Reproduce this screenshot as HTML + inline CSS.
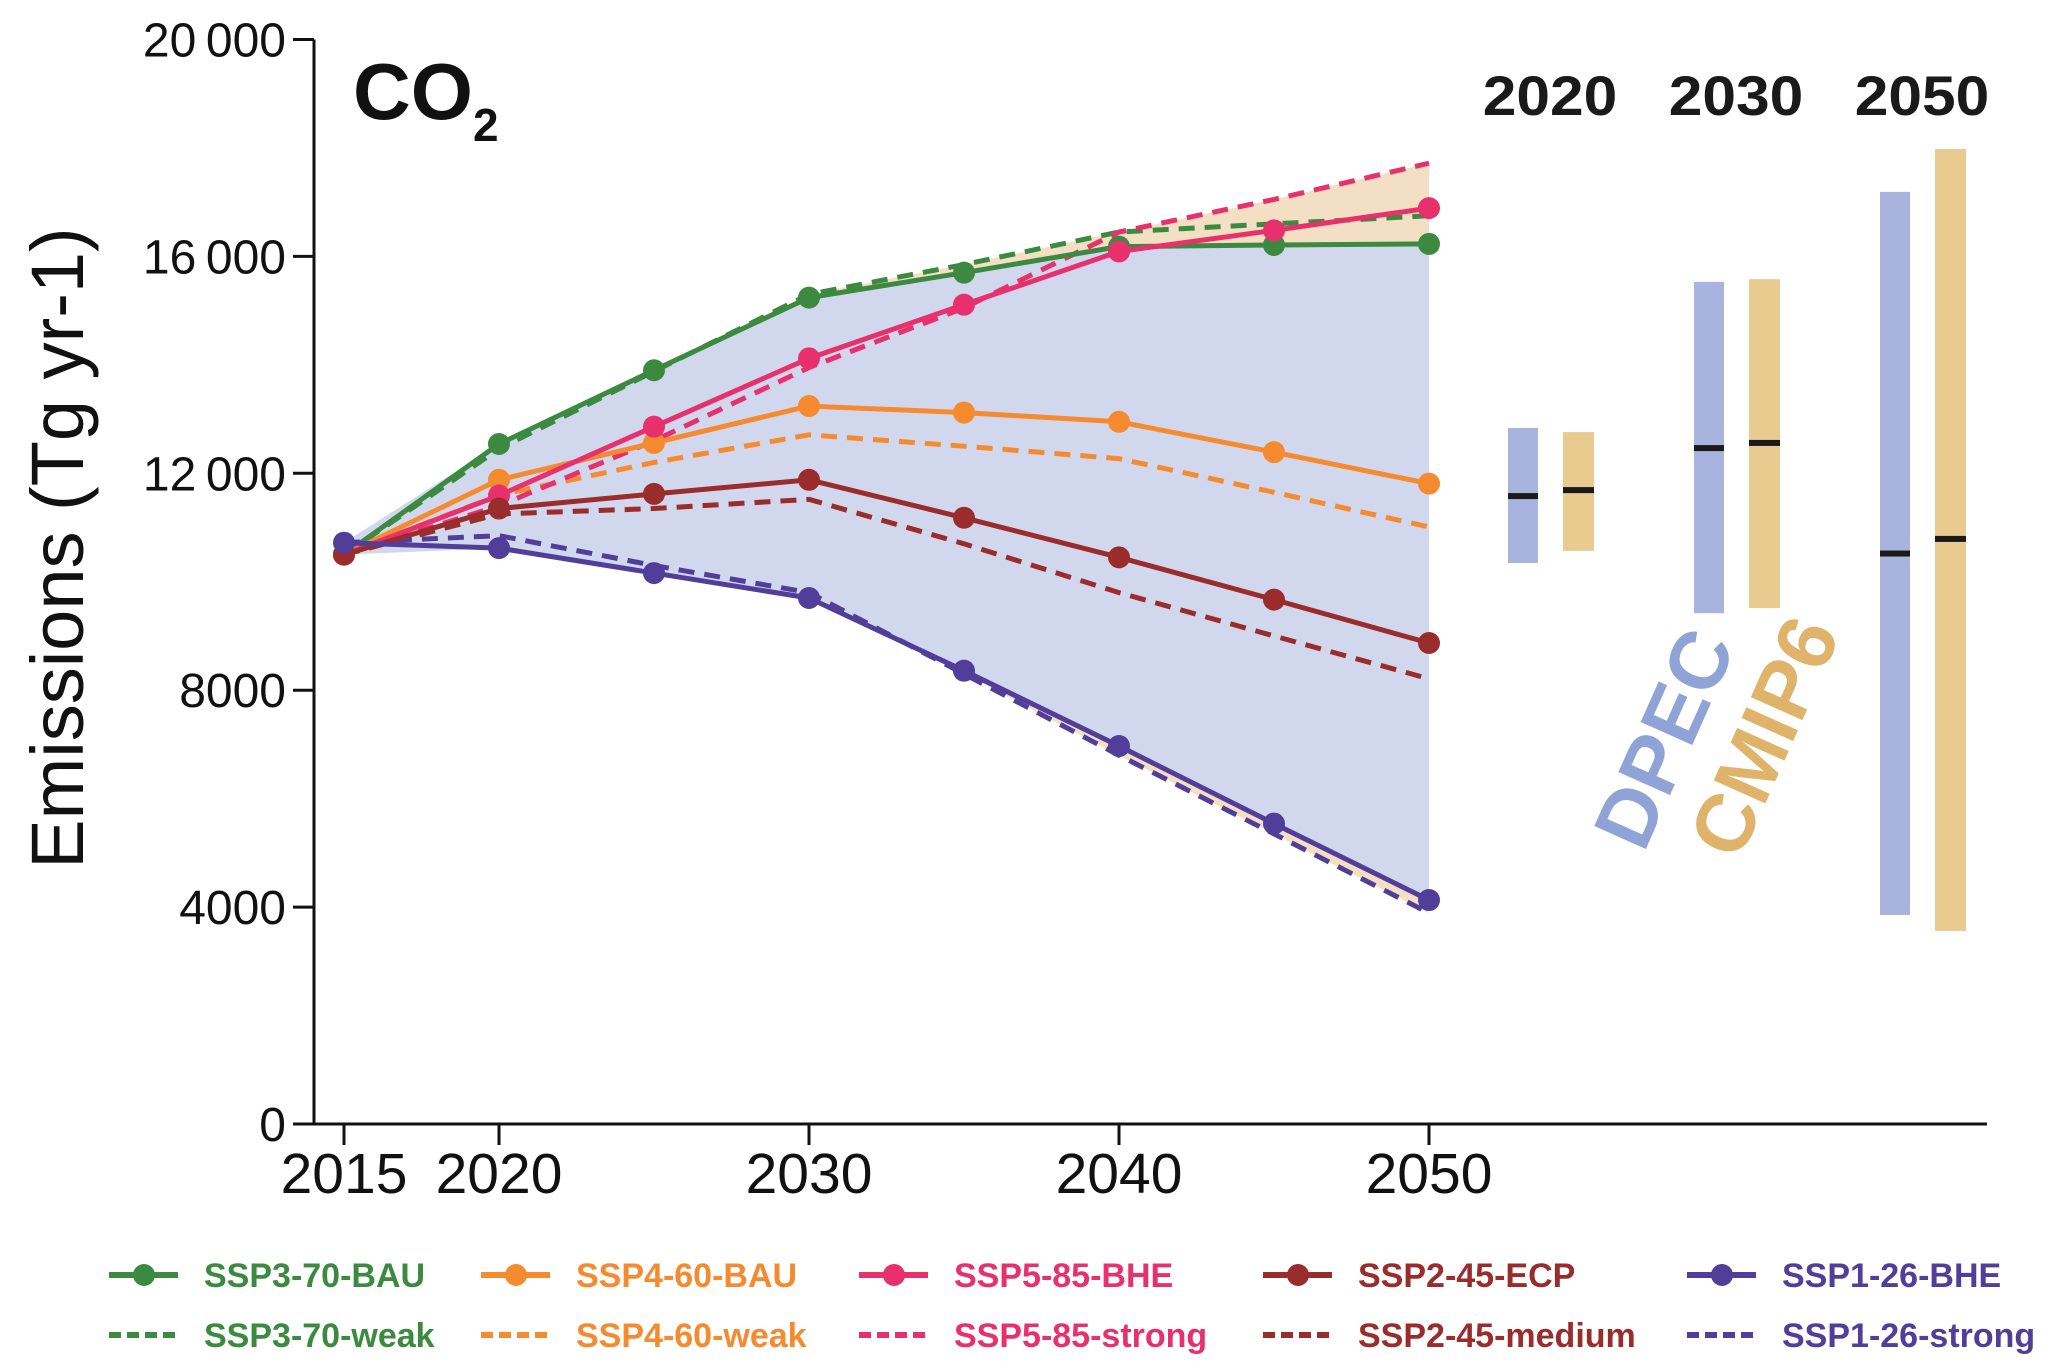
<!DOCTYPE html>
<html><head><meta charset="utf-8">
<style>
html,body{margin:0;padding:0;background:#fff;}
svg{display:block;font-family:"Liberation Sans",Arial,sans-serif;}
</style></head>
<body>
<svg id="chart" width="2067" height="1372" viewBox="0 0 2067 1372" xmlns="http://www.w3.org/2000/svg">
<g id="band"></g>
<g id="lines"></g>
<g id="axes"></g>
<g id="bars"></g>
<g id="legend"></g>
<text x="353" y="119" font-size="80" font-weight="bold" fill="#111">CO<tspan font-size="46" dy="22">2</tspan></text>
<text transform="translate(83,548) rotate(-90)" text-anchor="middle" font-size="74" fill="#111">Emissions (Tg yr-1)</text>
<text transform="translate(1690,750) rotate(-66)" text-anchor="middle" font-size="82" font-weight="bold" fill="#8fa3d6">DPEC</text>
<text transform="translate(1790,748) rotate(-66)" text-anchor="middle" font-size="82" font-weight="bold" fill="#dfb46a">CMIP6</text>
</svg>
<script>
const years = [2015,2020,2025,2030,2035,2040,2045,2050];
const ssp3Bau = [10500,12540,13900,15240,15700,16180,16210,16230];
const ssp3Weak = [10500,12450,13880,15300,15850,16450,16600,16750];
const ssp4Bau = [10500,11880,12560,13240,13120,12950,12390,11810];
const ssp4Weak = [10500,11600,12200,12710,12500,12270,11650,11010];
const ssp5Bhe = [10500,11590,12860,14120,15110,16090,16480,16890];
const ssp5Strong = [10500,11400,12600,13950,15050,16450,17050,17720];
const ssp2Ecp = [10500,11350,11620,11880,11180,10450,9670,8870];
const ssp2Medium = [10500,11250,11350,11520,10700,9800,9000,8210];
const ssp1Bhe = [10720,10620,10160,9700,8360,6970,5540,4130];
const ssp1Strong = [10720,10850,10300,9800,8300,6800,5350,3890];
const yTicks = [0,4000,8000,12000,16000,20000];
const yTickLabels = ["0","4000","8000","12\u2009000","16\u2009000","20\u2009000"];
const xTicks = [2015,2020,2030,2040,2050];
const barYears = ["2020","2030","2050"];
const dpecMin = [10345,9420,3855];
const dpecMax = [12835,15530,17190];
const dpecMed = [11580,12465,10520];
const cmipMin = [10570,9515,3560];
const cmipMax = [12760,15580,17980];
const cmipMed = [11690,12560,10790];

const NS="http://www.w3.org/2000/svg";
const X=v=>344+(v-2015)*(1429-344)/35;
const Y=v=>1124-v*(1124-39.5)/20000;
function mk(tag,attrs,parent){const e=document.createElementNS(NS,tag);for(const k in attrs)e.setAttribute(k,attrs[k]);parent.appendChild(e);return e;}
const band=document.getElementById('band'),lines=document.getElementById('lines'),axes=document.getElementById('axes'),bars=document.getElementById('bars'),legend=document.getElementById('legend');
const all=[ssp3Bau,ssp3Weak,ssp4Bau,ssp4Weak,ssp5Bhe,ssp5Strong,ssp2Ecp,ssp2Medium,ssp1Bhe,ssp1Strong];
function envPath(top,bot){let d='';years.forEach((y,i)=>{d+=(i?'L':'M')+X(y)+','+Y(top[i]);});for(let i=years.length-1;i>=0;i--)d+='L'+X(years[i])+','+Y(bot[i]);return d+'Z';}
const maxAll=years.map((_,i)=>Math.max(...all.map(s=>s[i])));
const minAll=years.map((_,i)=>Math.min(...all.map(s=>s[i])));
let e=mk('path',{d:envPath(maxAll,minAll),fill:'#f3dfc3'},band);

const solids=[ssp3Bau,ssp4Bau,ssp5Bhe,ssp2Ecp,ssp1Bhe];
const topB=years.map((_,i)=>Math.max(ssp3Bau[i],ssp1Bhe[i]));
const botB=years.map((_,i)=>Math.min(...solids.map(s=>s[i])));
e=mk('path',{d:envPath(topB,botB),fill:'#d1d8ee'},band);


const series=[
 {n:'SSP3-70-BAU',d:ssp3Bau,c:'#3b8a3f',dash:false},
 {n:'SSP3-70-weak',d:ssp3Weak,c:'#3b8a3f',dash:true},
 {n:'SSP4-60-BAU',d:ssp4Bau,c:'#f58a2e',dash:false},
 {n:'SSP4-60-weak',d:ssp4Weak,c:'#f58a2e',dash:true},
 {n:'SSP5-85-BHE',d:ssp5Bhe,c:'#e8306c',dash:false},
 {n:'SSP5-85-strong',d:ssp5Strong,c:'#e8306c',dash:true},
 {n:'SSP2-45-ECP',d:ssp2Ecp,c:'#9a2c2c',dash:false},
 {n:'SSP2-45-medium',d:ssp2Medium,c:'#9a2c2c',dash:true},
 {n:'SSP1-26-BHE',d:ssp1Bhe,c:'#503e9a',dash:false},
 {n:'SSP1-26-strong',d:ssp1Strong,c:'#503e9a',dash:true}];
const order=[1,3,5,7,9,0,2,4,6,8];
order.forEach(k=>{const s=series[k];
 const pts=years.map((y,i)=>X(y)+','+Y(s.d[i])).join(' ');
 const pl=mk('polyline',{points:pts,fill:'none',stroke:s.c,'stroke-width':5,'stroke-linejoin':'round'},lines);
 if(s.dash)pl.setAttribute('stroke-dasharray','16,10');
 
 
 if(!s.dash){years.forEach((y,i)=>{const c=mk('circle',{cx:X(y),cy:Y(s.d[i]),r:11,fill:s.c},lines);
  
  });}
});
// axes
e=mk('line',{x1:314,y1:Y(20000),x2:314,y2:1124,stroke:'#111','stroke-width':3},axes);

e=mk('line',{x1:314,y1:1124,x2:1987,y2:1124,stroke:'#111','stroke-width':3},axes);

yTicks.forEach((v,i)=>{mk('line',{x1:293,y1:Y(v),x2:314,y2:Y(v),stroke:'#111','stroke-width':3},axes);
 const t=mk('text',{x:286,y:Y(v)+17,'text-anchor':'end','font-size':48,fill:'#111'},axes);t.textContent=yTickLabels[i];
 });
xTicks.forEach(v=>{mk('line',{x1:X(v),y1:1124,x2:X(v),y2:1145,stroke:'#111','stroke-width':3},axes);
 const t=mk('text',{x:X(v),y:1193,'text-anchor':'middle','font-size':57,fill:'#111'},axes);t.textContent=v;
 });
// bars
const groupX=[1508,1694,1880];
barYears.forEach((yr,i)=>{const gx=groupX[i];
 const t=mk('text',{x:gx+42,y:115,'text-anchor':'middle','font-size':56,'font-weight':'bold',fill:'#1a1a1a',transform:'translate('+(gx+42)+',0) scale(1.08,1) translate('+(-(gx+42))+',0)'},bars);t.textContent=yr;
 
 let r=mk('rect',{x:gx,y:Y(dpecMax[i]),width:30,height:Y(dpecMin[i])-Y(dpecMax[i]),fill:'#a8b4de'},bars);
 
 r=mk('rect',{x:gx,y:Y(dpecMed[i])-3,width:30,height:6,fill:'#1a1a1a'},bars);
 
 r=mk('rect',{x:gx+55,y:Y(cmipMax[i]),width:31,height:Y(cmipMin[i])-Y(cmipMax[i]),fill:'#e9ca8f'},bars);
 
 r=mk('rect',{x:gx+55,y:Y(cmipMed[i])-3,width:31,height:6,fill:'#1a1a1a'},bars);
 
});
// legend
const colX=[109,481,859,1263,1687];
series.forEach((s,k)=>{const col=Math.floor(k/2),row=k%2;const x=colX[col],y=row?1335:1275;
 const g=mk('g',{},legend);
 
 
 const l=mk('line',{x1:x,y1:y,x2:x+69,y2:y,stroke:s.c,'stroke-width':6},g);
 if(s.dash)l.setAttribute('stroke-dasharray','12,6');
 else mk('circle',{cx:x+35,cy:y,r:11,fill:s.c},g);
 const t=mk('text',{x:x+95,y:y+12,'font-size':34,'font-weight':'bold',fill:s.c},g);t.textContent=s.n;
});
</script>
</body></html>
